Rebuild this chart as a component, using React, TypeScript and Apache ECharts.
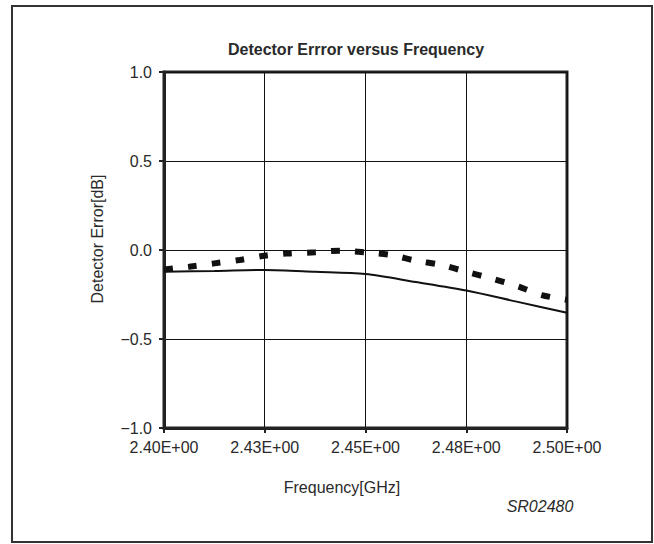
import React, { useEffect, useRef } from "react";
import * as echarts from "echarts";

const TITLE = "Detector Errror versus Frequency";
const X_NAME = "Frequency[GHz]";
const Y_NAME = "Detector Error[dB]";
const NOTE = "SR02480";

const X_TICK_LABELS = ["2.40E+00", "2.43E+00", "2.45E+00", "2.48E+00", "2.50E+00"];
const Y_TICK_LABELS = ["\u22121.0", "\u22120.5", "0.0", "0.5", "1.0"];

const SOLID_FREQ = [2.4, 2.4125, 2.425, 2.4375, 2.45, 2.4625, 2.475, 2.4875, 2.5];
const SOLID_ERR = [-0.122, -0.118, -0.112, -0.122, -0.135, -0.18, -0.228, -0.29, -0.352];

const DOTTED_FREQ = [
  2.4, 2.40625, 2.4125, 2.41875, 2.425, 2.43125, 2.4375, 2.44375, 2.45,
  2.45625, 2.4625, 2.46875, 2.475, 2.48125, 2.4875, 2.49375, 2.5,
];
const DOTTED_ERR = [
  -0.109, -0.094, -0.075, -0.056, -0.032, -0.019, -0.013, -0.004, -0.013,
  -0.028, -0.06, -0.084, -0.122, -0.16, -0.202, -0.253, -0.28,
];

const FONT = "Liberation Sans, Arial, sans-serif";
const TEXT_COLOR = "#2a2a2a";

export default function App() {
  const ref = useRef<HTMLDivElement>(null);
  useEffect(() => {
    if (!ref.current) return;
    const chart = echarts.init(ref.current, null, { renderer: "svg" });
    const axisLine = { show: true, onZero: false, lineStyle: { color: "#222", width: 3 } };
    const axisTick = { show: true, length: 5, lineStyle: { color: "#222", width: 2 } };
    const splitLine = { show: true, lineStyle: { color: "#111", width: 1 } };
    chart.setOption({
      animation: false,
      backgroundColor: "#fff",
      grid: {
        left: 164,
        top: 72,
        right: 87,
        bottom: 116,
        show: true,
        borderColor: "#222",
        borderWidth: 3,
        backgroundColor: "transparent",
      },
      xAxis: {
        type: "value",
        min: 2.4,
        max: 2.5,
        interval: 0.025,
        axisLine,
        axisTick,
        splitLine,
        axisLabel: {
          margin: 11,
          fontSize: 16,
          fontFamily: FONT,
          color: TEXT_COLOR,
          formatter: (v: number) => X_TICK_LABELS[Math.round((v - 2.4) / 0.025)] ?? "",
        },
      },
      yAxis: {
        type: "value",
        min: -1,
        max: 1,
        interval: 0.5,
        axisLine,
        axisTick,
        splitLine,
        axisLabel: {
          margin: 12,
          fontSize: 16,
          fontFamily: FONT,
          color: TEXT_COLOR,
          formatter: (v: number) => Y_TICK_LABELS[Math.round((v + 1) / 0.5)] ?? "",
        },
      },
      series: [
        {
          type: "line",
          data: SOLID_FREQ.map((f, i) => [f, SOLID_ERR[i]]),
          smooth: 0.3,
          showSymbol: false,
          lineStyle: { color: "#111", width: 2 },
          z: 3,
        },
        {
          type: "line",
          data: DOTTED_FREQ.map((f, i) => [f, DOTTED_ERR[i]]),
          smooth: 0.3,
          showSymbol: false,
          lineStyle: { color: "#111", width: 6, type: [9, 15], cap: "butt" },
          z: 4,
        },
      ],
      graphic: [
        {
          type: "rect",
          shape: { x: 12, y: 6, width: 640, height: 536 },
          style: { fill: "none", stroke: "#333", lineWidth: 2 },
          z: -1,
        },
        {
          type: "text",
          x: 356,
          y: 49,
          style: {
            text: TITLE,
            align: "center",
            verticalAlign: "middle",
            font: `bold 16px ${FONT}`,
            fill: TEXT_COLOR,
          },
        },
        {
          type: "text",
          x: 342,
          y: 487,
          style: {
            text: X_NAME,
            align: "center",
            verticalAlign: "middle",
            font: `16px ${FONT}`,
            fill: TEXT_COLOR,
          },
        },
        {
          type: "text",
          x: 97,
          y: 239,
          rotation: Math.PI / 2,
          style: {
            text: Y_NAME,
            align: "center",
            verticalAlign: "middle",
            font: `16px ${FONT}`,
            fill: TEXT_COLOR,
          },
        },
        {
          type: "text",
          x: 540,
          y: 506,
          style: {
            text: NOTE,
            align: "center",
            verticalAlign: "middle",
            font: `italic 16px ${FONT}`,
            fill: TEXT_COLOR,
          },
        },
      ],
    });
    return () => chart.dispose();
  }, []);
  return (
    <div
      ref={ref}
      style={{ position: "absolute", left: 0, top: 0, width: 654, height: 544 }}
    />
  );
}
